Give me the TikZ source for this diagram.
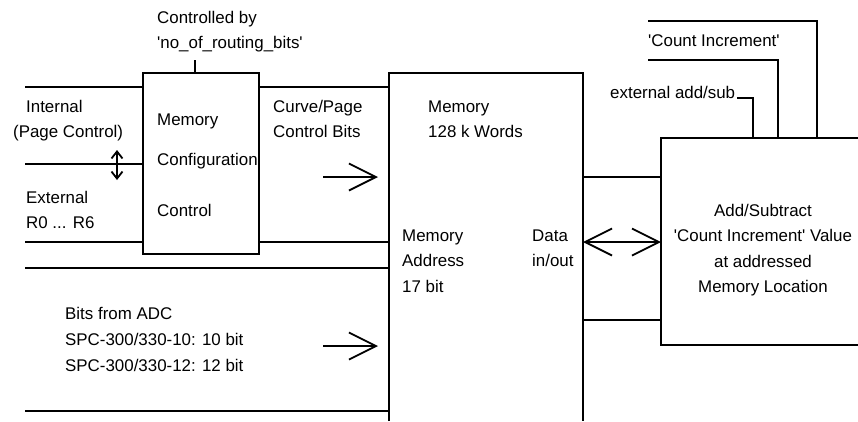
\documentclass[tikz,border=0pt]{standalone}
\usepackage{fontspec}
\setmainfont{Liberation Sans}
\usetikzlibrary{arrows.meta}
\newcommand{\q}{\textquotesingle}
\begin{document}
\begin{tikzpicture}[x=1pt,y=-1pt,
  wire/.style={line width=2pt},
  bigarrow/.style={line width=1.8pt,-{Straight Barb[length=27pt,width=27pt,line width=1.8pt]}},
  bigdouble/.style={line width=1.8pt,{Straight Barb[length=27pt,width=27pt,line width=1.8pt]}-{Straight Barb[length=27pt,width=27pt,line width=1.8pt]}},
  smalldouble/.style={line width=1.8pt,{Straight Barb[length=7pt,width=11pt,line width=1.8pt]}-{Straight Barb[length=7pt,width=11pt,line width=1.8pt]}},
  lbl/.style={anchor=base west,inner sep=0pt,font=\fontsize{16.9}{20}\selectfont},
  clbl/.style={anchor=base,inner sep=0pt,font=\fontsize{16.9}{20}\selectfont},
  boxnode/.style={draw,line width=2pt,outer sep=0pt,inner sep=0pt}]
\useasboundingbox (0,0) rectangle (858,421);

% memory configuration box
\node[boxnode,minimum width=116pt,minimum height=181pt] (cfg) at (201,163.5) {};
\coordinate (stem) at (195,60);
\draw[wire] (stem) -- (stem |- cfg.north);

% memory box (open at bottom)
\coordinate (memTL) at (389,73);
\coordinate (memTR) at (583,73);
\coordinate (memBL) at (389,421);
\coordinate (memBR) at (583,421);
\draw[wire] (memBL) -- (memTL) -- (memTR) -- (memBR);

% add/subtract box (open at right)
\coordinate (addTL) at (661,137.5);
\coordinate (addBL) at (661,345);
\draw[wire] (858,137.5) -- (addTL) -- (addBL) -- (858,345);

% left input lines
\coordinate (l1) at (25,87);
\coordinate (l2) at (25,164);
\coordinate (l3) at (25,242);
\coordinate (l4) at (25,268);
\coordinate (l5) at (25,411);
\draw[wire] (l1) -- (l1 -| cfg.west);
\draw[wire] (l1 -| cfg.east) -- (l1 -| memTL);
\draw[wire] (l2) -- (l2 -| cfg.west);
\draw[wire] (l3) -- (l3 -| cfg.west);
\draw[wire] (l3 -| cfg.east) -- (l3 -| memTL);
\draw[wire] (l4) -- (l4 -| memTL);
\draw[wire] (l5) -- (l5 -| memTL);

% small double arrow
\coordinate (sa1) at (117,150);
\coordinate (sa2) at (117,180);
\draw[smalldouble] (sa1) -- (sa2);

% right-pointing arrows into memory
\coordinate (a1s) at (323,177);
\coordinate (a1e) at (378,177);
\draw[bigarrow] (a1s) -- (a1e);
\coordinate (a2s) at (323,346);
\coordinate (a2e) at (378,346);
\draw[bigarrow] (a2s) -- (a2e);

% memory <-> add box
\coordinate (d1) at (583,177);
\coordinate (d2) at (583,242);
\coordinate (d3) at (583,319.5);
\draw[wire] (d1) -- (d1 -| addTL);
\draw[bigdouble] (d2) -- (d2 -| addTL);
\draw[wire] (d3) -- (d3 -| addTL);

% inputs to add box
\coordinate (t1) at (648,21);
\coordinate (t2) at (648,60);
\coordinate (t3) at (737,98);
\draw[wire] (t1) -| (817,137.5);
\draw[wire] (t2) -| (778,137.5);
\draw[wire] (t3) -| (753,137.5);

% texts
\node[lbl] (c1) at (157,23) {Controlled by};
\node[lbl] (c2) at (157,48) {\q no\_of\_routing\_bits\q};
\node[lbl] (i1) at (26,112) {Internal};
\node[lbl] (i2) at (13,137) {(Page Control)};
\node[lbl] (e1) at (26,203) {External};
\node[lbl] (e2) at (26,228) {R0 ... R6};
\node[lbl] (m1) at (157,125) {Memory};
\node[lbl] (m2) at (157,165) {Configuration};
\node[lbl] (m3) at (157,216) {Control};
\node[lbl] (cp1) at (273,112) {Curve/Page};
\node[lbl] (cp2) at (273,137) {Control Bits};
\node[lbl] (mw1) at (428,112) {Memory};
\node[lbl] (mw2) at (428,137) {128 k Words};
\node[lbl] (ma1) at (402,241) {Memory};
\node[lbl] (ma2) at (402,266.5) {Address};
\node[lbl] (ma3) at (402,292) {17 bit};
\node[lbl] (dt1) at (532,241) {Data};
\node[lbl] (dt2) at (532,266.5) {in/out};
\node[clbl] (as1) at (763,216) {Add/Subtract};
\node[clbl] (as2) at (763,241.5) {\q Count Increment\q{} Value};
\node[clbl] (as3) at (763,267) {at addressed};
\node[clbl] (as4) at (763,292.5) {Memory Location};
\node[lbl] (b1) at (65,319) {Bits from ADC};
\node[lbl] (b2) at (65,345.5) {SPC-300/330-10: 10 bit};
\node[lbl] (b3) at (65,371.5) {SPC-300/330-12: 12 bit};
\node[lbl] (ci) at (648,46.5) {\q Count Increment\q};
\node[lbl] (ea) at (610,98) {external add/sub};
\end{tikzpicture}
\end{document}
